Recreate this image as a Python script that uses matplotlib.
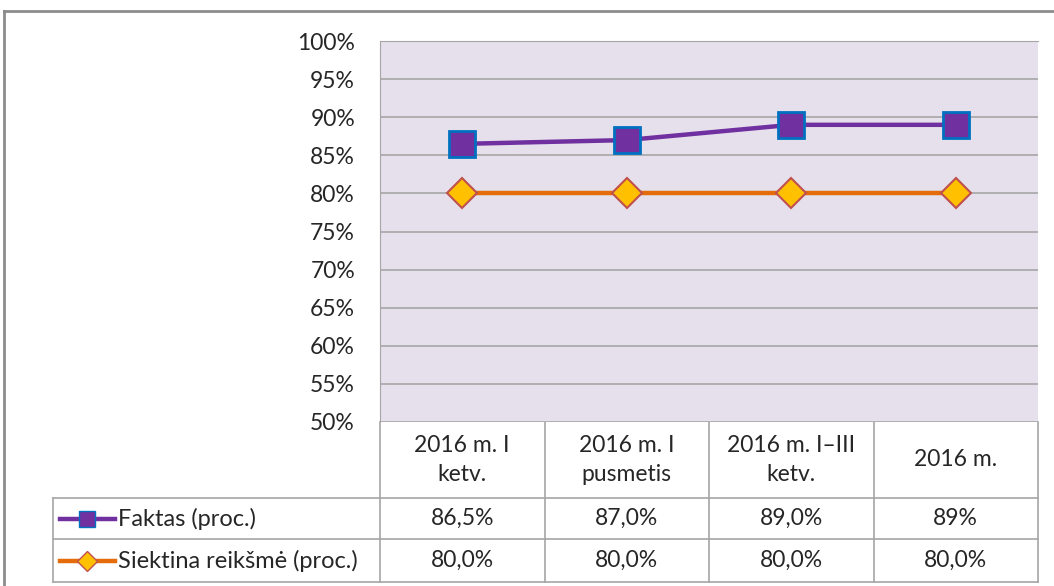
import matplotlib
matplotlib.use("Agg")
import matplotlib.pyplot as plt
from matplotlib.lines import Line2D

categories = ["2016 m. I\nketv.", "2016 m. I\npusmetis", "2016 m. I\u2013III\nketv.", "2016 m."]
faktas = [86.5, 87.0, 89.0, 89.0]
siektina = [80.0, 80.0, 80.0, 80.0]
faktas_labels = ["86,5%", "87,0%", "89,0%", "89%"]
siektina_labels = ["80,0%", "80,0%", "80,0%", "80,0%"]
series_names = ["Faktas (proc.)", "Siektina reikšmė (proc.)"]
yticks = list(range(50, 101, 5))

W, H = 1054, 586
plt.rcParams['font.family'] = ['Lato', 'DejaVu Sans']
fig = plt.figure(figsize=(W / 100, H / 100), dpi=100)

# pixel layout
px_left, px_right, px_top, px_bottom = 380, 1038, 41, 422
grid_col = "#A6A6A6"
txt_col = "#262626"
fs = 16.5

# overlay axes in pixel coordinates for table + frame
bg = fig.add_axes([0, 0, 1, 1])
bg.set_xlim(0, W)
bg.set_ylim(H, 0)
bg.axis("off")
bg.plot([4, W], [11, 11], color="#8C8C8C", lw=2)
bg.plot([4, 4], [11, H], color="#8C8C8C", lw=2)

ax = fig.add_axes([px_left / W, 1 - px_bottom / H,
                   (px_right - px_left) / W, (px_bottom - px_top) / H])
ax.set_facecolor("#E5E0EC")
x = range(len(categories))
ax.set_xlim(-0.5, len(categories) - 0.5)
ax.set_ylim(50, 100)
ax.set_yticks(yticks)
ax.set_yticklabels([f"{v}%" for v in yticks], fontsize=fs, color=txt_col)
ax.tick_params(axis="y", length=0, pad=18)
ax.tick_params(axis="x", length=0, labelbottom=False)
ax.yaxis.grid(True, color=grid_col, lw=1.2)
ax.set_axisbelow(True)
for s in ax.spines.values():
    s.set_visible(False)
ax.spines["left"].set_visible(True)
ax.spines["left"].set_color(grid_col)
ax.spines["top"].set_visible(True)
ax.spines["top"].set_color(grid_col)

ax.plot(x, faktas, color="#7030A0", lw=3.2, marker="s", markersize=19,
        markerfacecolor="#7030A0", markeredgecolor="#0070C0", markeredgewidth=2, zorder=4)
ax.plot(x, siektina, color="#E46C0A", lw=3.2, marker="D", markersize=15,
        markerfacecolor="#FFC000", markeredgecolor="#C0504D", markeredgewidth=1.5, zorder=3)

# data table
col_w = (px_right - px_left) / len(categories)
row_head = (px_bottom, 498)
row1 = (498, 539)
row2 = (539, 582)
tab_left = 53
for i in range(len(categories) + 1):
    xx = px_left + i * col_w
    bg.plot([xx, xx], [px_bottom, row2[1]], color=grid_col, lw=1.2)
bg.plot([tab_left, tab_left], [row1[0], row2[1]], color=grid_col, lw=1.2)
for yy in [row1[0], row2[0], row2[1]]:
    bg.plot([tab_left, px_right], [yy, yy], color=grid_col, lw=1.2)

for i, c in enumerate(categories):
    cx = px_left + (i + 0.5) * col_w
    bg.text(cx, (row_head[0] + row_head[1]) / 2, c, ha="center", va="center",
            fontsize=fs, color=txt_col, linespacing=1.45)
    bg.text(cx, sum(row1) / 2, faktas_labels[i], ha="center", va="center", fontsize=fs, color=txt_col)
    bg.text(cx, sum(row2) / 2, siektina_labels[i], ha="center", va="center", fontsize=fs, color=txt_col)

# legend keys in table
y1, y2 = sum(row1) / 2, sum(row2) / 2
bg.add_line(Line2D([60, 115], [y1, y1], color="#7030A0", lw=3.2))
bg.plot([87], [y1], marker="s", markersize=11.5, color="#7030A0",
        markeredgecolor="#0070C0", markeredgewidth=1.0)
bg.add_line(Line2D([60, 115], [y2, y2], color="#E46C0A", lw=3.2))
bg.plot([87], [y2], marker="D", markersize=10, color="#FFC000",
        markeredgecolor="#C0504D", markeredgewidth=1.0)
bg.text(118, y1, series_names[0], ha="left", va="center", fontsize=fs + 0.5, color=txt_col)
bg.text(118, y2, series_names[1], ha="left", va="center", fontsize=fs + 0.5, color=txt_col)

fig.savefig("out.png", dpi=100)
